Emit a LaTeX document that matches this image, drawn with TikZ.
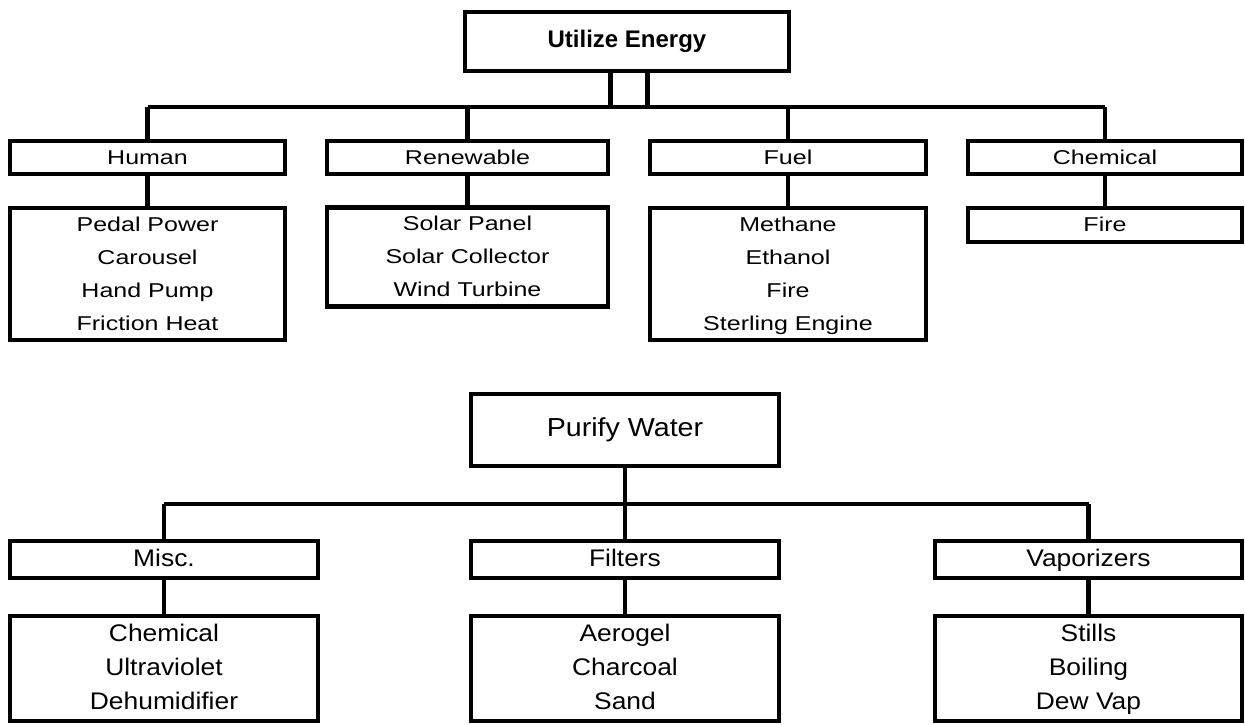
\documentclass[tikz,border=0pt]{standalone}
\usepackage{fontspec}
\setmainfont{Liberation Sans}
\newfontfamily\topfont{Liberation Sans}[FakeStretch=1.25]
\newfontfamily\botfont{Liberation Sans}[FakeStretch=1.1]
\begin{document}
\begin{tikzpicture}[x=1pt,y=-1pt,
  box/.style={draw=black,line width=4.8pt,inner sep=0pt,align=center,anchor=center},
  topbox/.style={box,font=\topfont\fontsize{20}{33}\selectfont},
  botbox/.style={box,font=\botfont\fontsize{24}{34}\selectfont},
  conn/.style={draw=black,line width=4.8pt}]
\useasboundingbox (0,0) rectangle (1245,724);
% ---------- Utilize Energy ----------
\node[box,minimum width=324pt,minimum height=59pt,font=\bfseries\fontsize{24}{28}\selectfont] (ue) at (627,41.5) {\strut Utilize Energy};
\node[topbox,minimum width=275pt,minimum height=33pt] (hum) at (147.5,157.5) {\strut Human};
\node[topbox,minimum width=275pt,minimum height=132pt] (humc) at (147.5,274) {\strut Pedal Power\\\strut Carousel\\\strut Hand Pump\\\strut Friction Heat};
\node[topbox,minimum width=281pt,minimum height=33pt] (ren) at (467.5,157.5) {\strut Renewable};
\node[topbox,minimum width=281pt,minimum height=98pt] (renc) at (467.5,257) {\strut Solar Panel\\\strut Solar Collector\\\strut Wind Turbine};
\node[topbox,minimum width=276pt,minimum height=33pt] (fuel) at (788,157.5) {\strut Fuel};
\node[topbox,minimum width=276pt,minimum height=132pt] (fuelc) at (788,274) {\strut Methane\\\strut Ethanol\\\strut Fire\\\strut Sterling Engine};
\node[topbox,minimum width=274pt,minimum height=33pt] (chem) at (1105,157.5) {\strut Chemical};
\node[topbox,minimum width=274pt,minimum height=34pt] (fire) at (1105,225) {\strut Fire};
\coordinate (bus) at (627,107);
\draw[conn] (ue.south -| ren.north east) -- (ren.north east |- bus);
\draw[conn] (ue.south -| fuel.north west) -- (fuel.north west |- bus);
\draw[conn] (hum.north |- bus) -- (chem.north |- bus);
\draw[conn] (hum.north |- bus) -- (hum.north);
\draw[conn] (ren.north |- bus) -- (ren.north);
\draw[conn] (fuel.north |- bus) -- (fuel.north);
\draw[conn] (chem.north |- bus) -- (chem.north);
\draw[conn] (hum) -- (humc);
\draw[conn] (ren) -- (renc);
\draw[conn] (fuel) -- (fuelc);
\draw[conn] (chem) -- (fire);
% ---------- Purify Water ----------
\node[box,minimum width=308pt,minimum height=72pt,font=\botfont\fontsize{26}{30}\selectfont] (pw) at (625,430) {\strut Purify Water};
\node[botbox,minimum width=308pt,minimum height=37pt] (misc) at (164,559.5) {\strut Misc.};
\node[botbox,minimum width=308pt,minimum height=105pt] (miscc) at (164,668.5) {\strut Chemical\\\strut Ultraviolet\\\strut Dehumidifier};
\node[botbox,minimum width=308pt,minimum height=37pt] (filt) at (625,559.5) {\strut Filters};
\node[botbox,minimum width=308pt,minimum height=105pt] (filtc) at (625,668.5) {\strut Aerogel\\\strut Charcoal\\\strut Sand};
\node[botbox,minimum width=307pt,minimum height=37pt] (vap) at (1088.5,559.5) {\strut Vaporizers};
\node[botbox,minimum width=307pt,minimum height=105pt] (vapc) at (1088.5,668.5) {\strut Stills\\\strut Boiling\\\strut Dew Vap};
\coordinate (bus2) at (625,504);
\draw[conn] (pw) -- (filt);
\draw[conn] (misc.north |- bus2) -- (vap.north |- bus2);
\draw[conn] (misc.north |- bus2) -- (misc.north);
\draw[conn] (vap.north |- bus2) -- (vap.north);
\draw[conn] (misc) -- (miscc);
\draw[conn] (filt) -- (filtc);
\draw[conn] (vap) -- (vapc);
\end{tikzpicture}
\end{document}
